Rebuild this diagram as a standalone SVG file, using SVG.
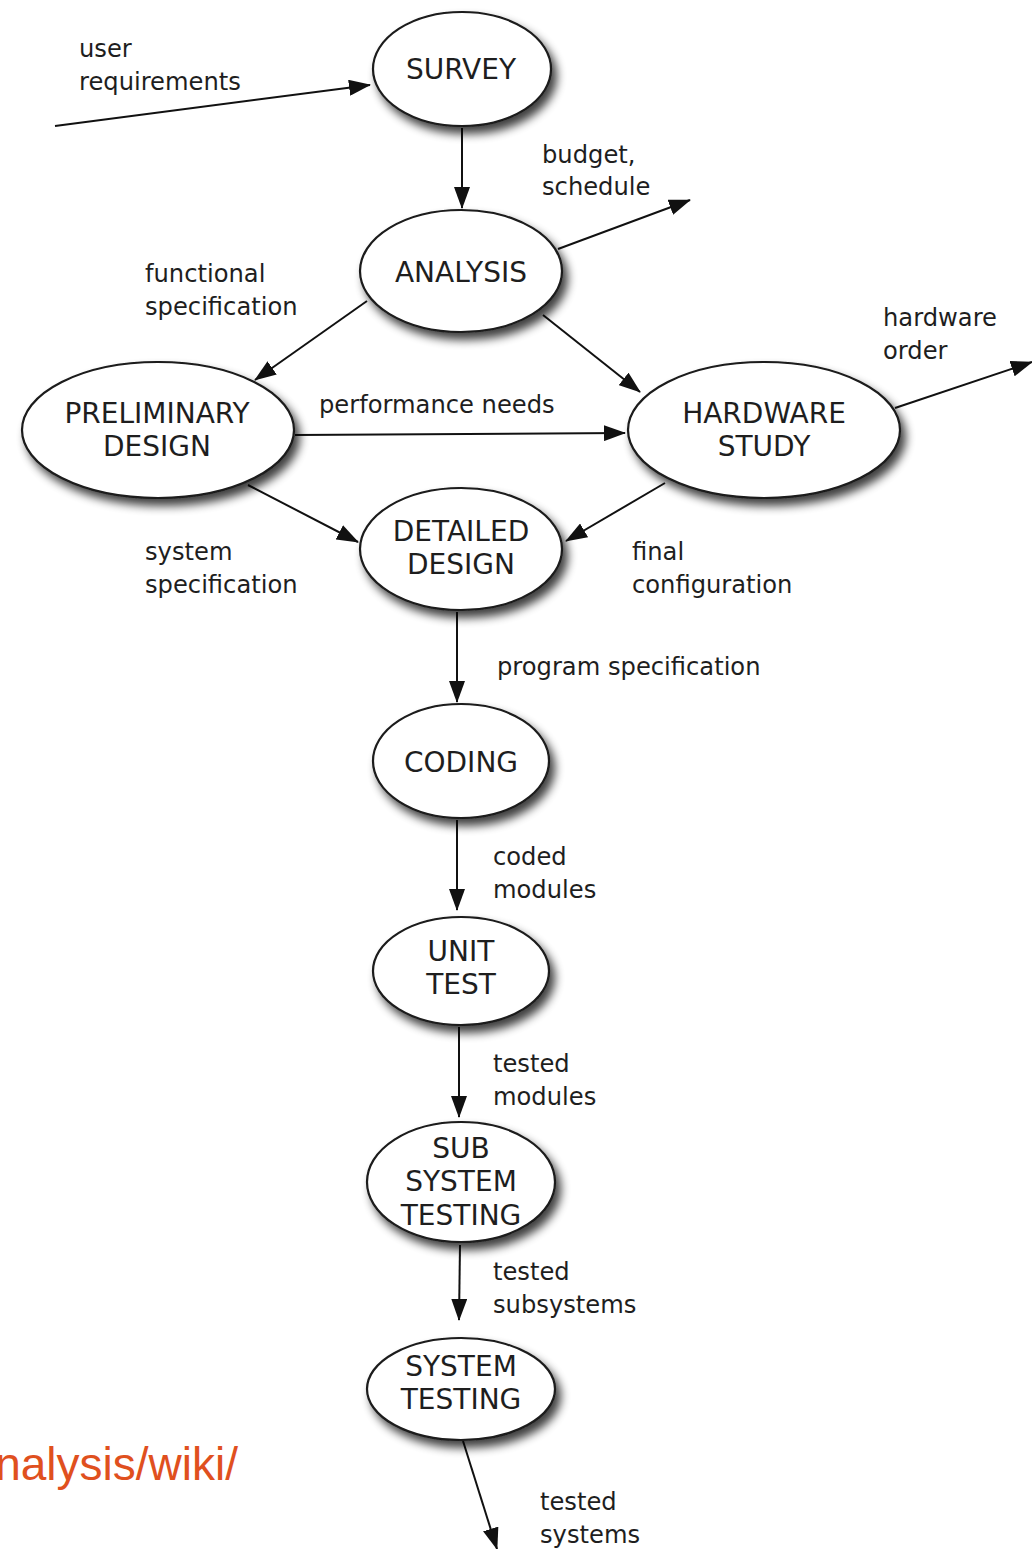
<svg xmlns="http://www.w3.org/2000/svg" width="1032" height="1549" viewBox="0 0 1032 1549">
  <defs>
    <style>
      .node ellipse { fill: #ffffff; stroke: #1a1a1a; stroke-width: 2.2; filter: url(#shadow); }
      .node text { font-family: "DejaVu Sans", "Liberation Sans", sans-serif; font-size: 28px; fill: #1e1e1e; text-anchor: middle; }
      .edge { stroke: #111111; stroke-width: 2; fill: none; marker-end: url(#arrow); }
      .lbl { font-family: "DejaVu Sans", "Liberation Sans", sans-serif; font-size: 24.2px; fill: #1e1e1e; }
      .src { font-family: "Liberation Sans", Arial, sans-serif; font-size: 46px; fill: #e0501e; }
    </style>
    <filter id="shadow" x="-20%" y="-20%" width="150%" height="160%">
      <feGaussianBlur in="SourceAlpha" stdDeviation="5"/>
      <feOffset dx="5" dy="7" result="blur"/>
      <feComponentTransfer><feFuncA type="linear" slope="0.75"/></feComponentTransfer>
      <feMerge><feMergeNode/><feMergeNode in="SourceGraphic"/></feMerge>
    </filter>
    <marker id="arrow" markerUnits="userSpaceOnUse" markerWidth="22" markerHeight="16" refX="21" refY="8" orient="auto">
      <path d="M0,0 L22,8 L0,16 z" fill="#111111"/>
    </marker>
  </defs>

  <rect width="1032" height="1549" fill="#ffffff"/>

  <!-- connectors -->
  <g id="connectors">
    <line class="edge" x1="55" y1="126" x2="370" y2="85"/>
    <line class="edge" x1="462" y1="128" x2="462" y2="208"/>
    <line class="edge" x1="558" y1="249" x2="690" y2="200"/>
    <line class="edge" x1="367" y1="301" x2="255" y2="380"/>
    <line class="edge" x1="543" y1="315" x2="640" y2="392"/>
    <line class="edge" x1="295" y1="435" x2="625" y2="433"/>
    <line class="edge" x1="895" y1="408" x2="1032" y2="362"/>
    <line class="edge" x1="248" y1="485" x2="358" y2="542"/>
    <line class="edge" x1="665" y1="483" x2="566" y2="541"/>
    <line class="edge" x1="457" y1="612" x2="457" y2="702"/>
    <line class="edge" x1="457" y1="820" x2="457" y2="910"/>
    <line class="edge" x1="459" y1="1027" x2="459" y2="1117"/>
    <line class="edge" x1="460" y1="1245" x2="459" y2="1320"/>
    <line class="edge" x1="463" y1="1441" x2="497" y2="1549"/>
  </g>

  <!-- nodes -->
  <g id="survey" class="node">
    <ellipse cx="462" cy="69" rx="89" ry="57"/>
    <text x="461" y="79">SURVEY</text>
  </g>
  <g id="analysis" class="node">
    <ellipse cx="461" cy="271" rx="101" ry="61"/>
    <text x="461" y="282">ANALYSIS</text>
  </g>
  <g id="preliminary-design" class="node">
    <ellipse cx="158" cy="430" rx="136" ry="68"/>
    <text x="157" y="423">PRELIMINARY</text>
    <text x="157" y="456">DESIGN</text>
  </g>
  <g id="hardware-study" class="node">
    <ellipse cx="764" cy="430" rx="136" ry="68"/>
    <text x="764" y="423">HARDWARE</text>
    <text x="764" y="456">STUDY</text>
  </g>
  <g id="detailed-design" class="node">
    <ellipse cx="461" cy="549" rx="101" ry="61"/>
    <text x="461" y="541">DETAILED</text>
    <text x="461" y="574">DESIGN</text>
  </g>
  <g id="coding" class="node">
    <ellipse cx="461" cy="761" rx="88" ry="57"/>
    <text x="461" y="772">CODING</text>
  </g>
  <g id="unit-test" class="node">
    <ellipse cx="461" cy="971" rx="88" ry="54"/>
    <text x="461" y="961">UNIT</text>
    <text x="461" y="994">TEST</text>
  </g>
  <g id="subsystem-testing" class="node">
    <ellipse cx="461" cy="1182" rx="94" ry="60"/>
    <text x="461" y="1158">SUB</text>
    <text x="461" y="1191">SYSTEM</text>
    <text x="461" y="1225">TESTING</text>
  </g>
  <g id="system-testing" class="node">
    <ellipse cx="461" cy="1389" rx="94" ry="51"/>
    <text x="461" y="1376">SYSTEM</text>
    <text x="461" y="1409">TESTING</text>
  </g>

  <!-- flow labels -->
  <g id="labels">
    <text class="lbl" x="79" y="57">user</text>
    <text class="lbl" x="79" y="90">requirements</text>
    <text class="lbl" x="542" y="163">budget,</text>
    <text class="lbl" x="542" y="195">schedule</text>
    <text class="lbl" x="145" y="282">functional</text>
    <text class="lbl" x="145" y="315">specification</text>
    <text class="lbl" x="883" y="326">hardware</text>
    <text class="lbl" x="883" y="359">order</text>
    <text class="lbl" x="319" y="413">performance needs</text>
    <text class="lbl" x="145" y="560">system</text>
    <text class="lbl" x="145" y="593">specification</text>
    <text class="lbl" x="632" y="560">final</text>
    <text class="lbl" x="632" y="593">configuration</text>
    <text class="lbl" x="497" y="675">program specification</text>
    <text class="lbl" x="493" y="865">coded</text>
    <text class="lbl" x="493" y="898">modules</text>
    <text class="lbl" x="493" y="1072">tested</text>
    <text class="lbl" x="493" y="1105">modules</text>
    <text class="lbl" x="493" y="1280">tested</text>
    <text class="lbl" x="493" y="1313">subsystems</text>
    <text class="lbl" x="540" y="1510">tested</text>
    <text class="lbl" x="540" y="1543">systems</text>
  </g>

  <text class="src" x="238" y="1480" text-anchor="end">nalysis/wiki/</text>
</svg>
